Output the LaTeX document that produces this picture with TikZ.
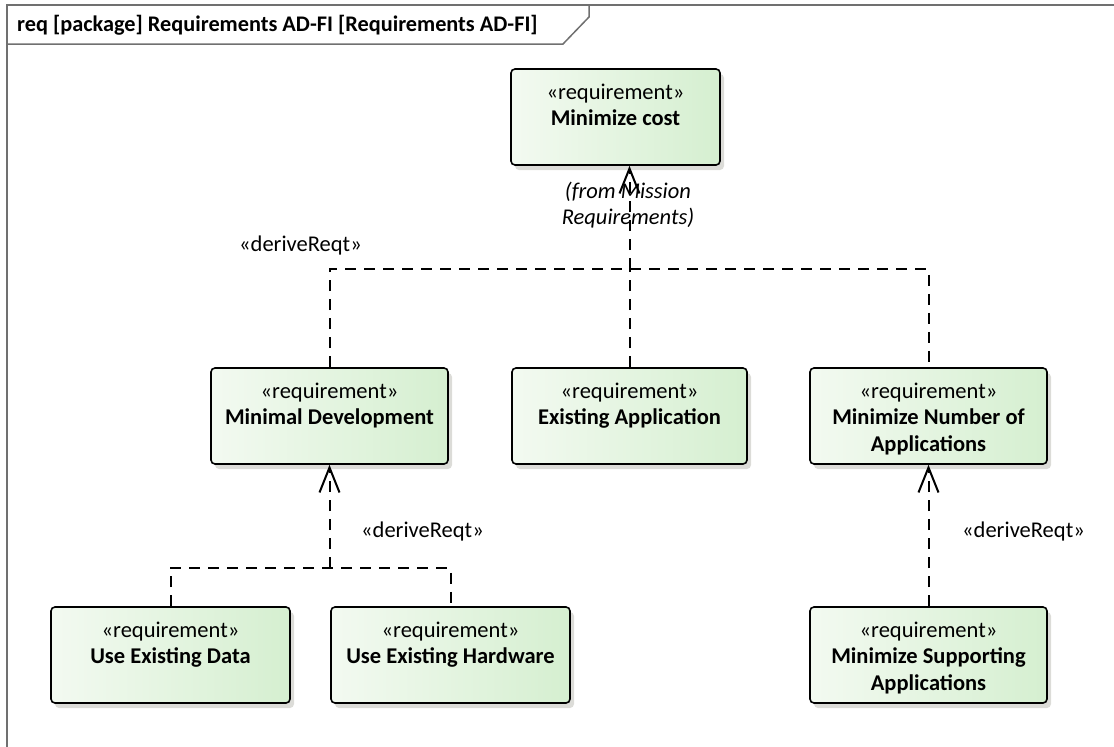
\documentclass[tikz,border=0pt]{standalone}
\usepackage{fontspec}
\setmainfont{Carlito}
\usetikzlibrary{arrows.meta,shadows}
\definecolor{boxl}{HTML}{F3FAF1}
\definecolor{boxr}{HTML}{D5EFD0}
\definecolor{shadowc}{HTML}{DCDCD8}
\definecolor{framec}{HTML}{707070}
\tikzset{
  req/.style={draw=black, line width=1.6pt, rounded corners=4pt,
    left color=boxl, right color=boxr, minimum height=96pt, inner sep=0pt,
    drop shadow={shadow xshift=4pt, shadow yshift=-5pt, fill=shadowc, opacity=1}},
  reqtext/.style={anchor=north, align=center, inner sep=0pt,
    font=\fontsize{22.5}{26.5}\selectfont},
  lbl/.style={anchor=base west, inner sep=0pt, font=\fontsize{22.5}{26.5}\selectfont},
  dep/.style={line width=2pt, dash pattern=on 11pt off 8pt},
  opentip/.style={-{Straight Barb[length=25pt,width=20pt,line width=2pt]}},
  framepen/.style={draw=framec, line width=1.5pt}
}
\newcommand\reqbox[5]{%
  \node[req, minimum width=#4pt] (#1) at (#2,#3+48) {};
  \node[reqtext] (#1-t) at (#2,#3+12) {\rule{0pt}{18pt}«requirement»\\#5};
}
\begin{document}
\begin{tikzpicture}[x=1pt,y=-1pt]
\useasboundingbox (0,0) rectangle (1114,747);
% frame
\draw[framepen] (7,747) -- (7,5) -- (1114,5);
\draw[framepen] (7,44) -- (563,44) -- (589,17) -- (589,5);
\node[anchor=base west, inner sep=0pt, font=\fontsize{22.3}{26.5}\selectfont\bfseries] (title) at (17,31) {req [package] Requirements AD-FI [Requirements AD-FI]};
% boxes
\reqbox{cost}{615.5}{69}{209}{\textbf{Minimize cost}}
\reqbox{mindev}{329.5}{368}{237}{\textbf{Minimal Development}}
\reqbox{exist}{629.5}{368}{235}{\textbf{Existing Application}}
\reqbox{minnum}{928.5}{368}{237}{\textbf{Minimize Number of}\\\textbf{Applications}}
\reqbox{data}{170.5}{607}{239}{\textbf{Use Existing Data}}
\reqbox{hw}{450.5}{607}{239}{\textbf{Use Existing Hardware}}
\reqbox{sup}{928.5}{607}{237}{\textbf{Minimize Supporting}\\\textbf{Applications}}
% labels
\node[reqtext, font=\fontsize{22.5}{26}\selectfont] (from) at (628,180) {\rule{0pt}{18pt}\textit{(from Mission}\\\textit{Requirements)}};
\node[lbl] (d1) at (239,251) {«deriveReqt»};
\node[lbl] (d2) at (361,537) {«deriveReqt»};
\node[lbl] (d3) at (962,537) {«deriveReqt»};
% connectors
\coordinate (j1) at (629.5,269);
\coordinate (j2) at (329.5,568);
\draw[dep] (exist.north) -- (j1);
\draw[dep,opentip] (j1) -- (j1 |- cost.south);
\draw[dep] (mindev.north) |- (minnum.north |- j1) -- (minnum.north);
\draw[dep,opentip] (j2) -- (mindev.south);
\draw[dep] (data.north) |- (hw.north |- j2) -- (hw.north);
\draw[dep,opentip] (sup.north) -- (minnum.south);
\end{tikzpicture}
\end{document}
